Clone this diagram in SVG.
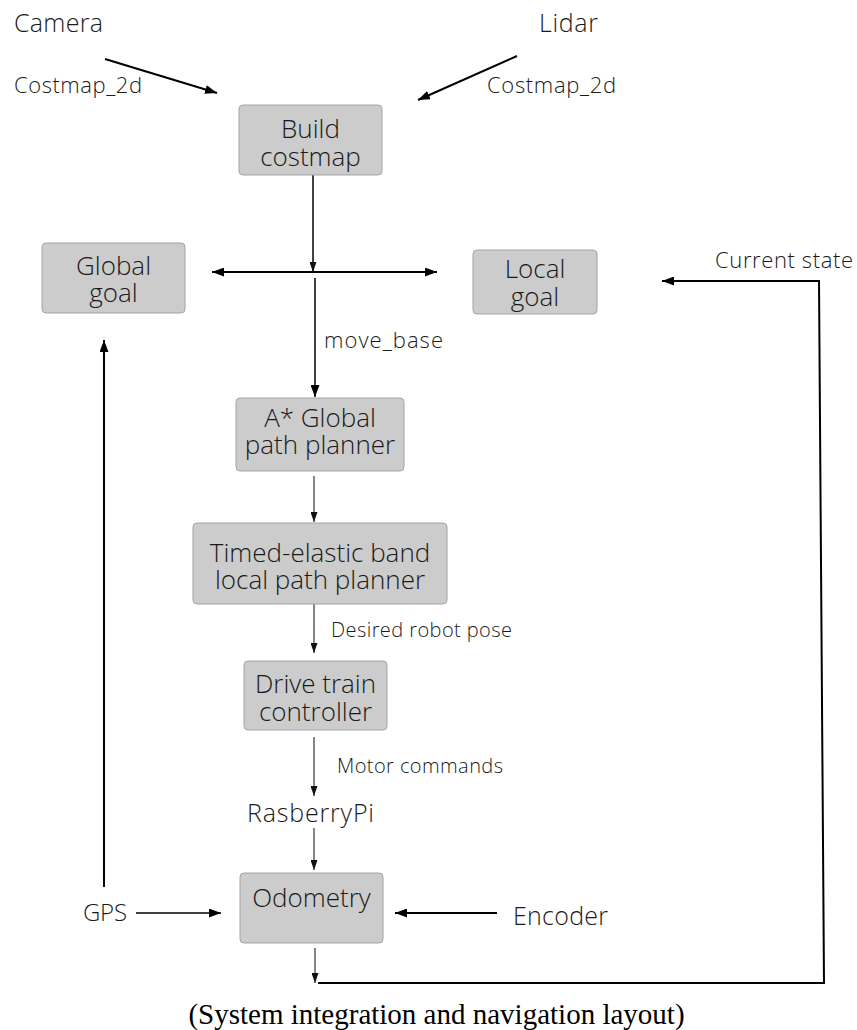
<svg xmlns="http://www.w3.org/2000/svg" width="857" height="1030" viewBox="0 0 857 1030">
<defs>
<style>
.box{fill:#cccccc;stroke:#a3a3a3;stroke-width:1}
.bt{font-family:"Open Sans","Noto Sans",sans-serif;font-weight:300;font-size:26px;fill:#1a1a1a;text-anchor:middle}
.lb{font-family:"Open Sans","Noto Sans",sans-serif;font-weight:300;fill:#1a1a1a}
.cap{font-family:"Liberation Serif","Times New Roman",serif;font-size:29px;fill:#000;text-anchor:middle}
.thick{stroke:#000;stroke-width:2;fill:none}
.mid{stroke:#000;stroke-width:1.5;fill:none}
.thin{stroke:#222;stroke-width:1.1;fill:none}
</style>
<marker id="ah" markerUnits="userSpaceOnUse" viewBox="0 0 12 9" refX="12" refY="4.5" markerWidth="12" markerHeight="9" orient="auto-start-reverse"><path d="M0,0 L12,4.5 L0,9 z" fill="#000"/></marker>
<marker id="as" markerUnits="userSpaceOnUse" viewBox="0 0 10 7" refX="10" refY="3.5" markerWidth="10" markerHeight="7" orient="auto"><path d="M0,0 L10,3.5 L0,7 z" fill="#111"/></marker>
</defs>
<rect width="857" height="1030" fill="#fff"/>

<g id="connectors">
<line class="thick" x1="105" y1="59" x2="217" y2="93" marker-end="url(#ah)"/>
<line class="thick" x1="517" y1="56" x2="418" y2="100" marker-end="url(#ah)"/>
<line class="mid" x1="313" y1="175" x2="313" y2="272" marker-end="url(#as)"/>
<line class="thick" x1="212" y1="272" x2="437" y2="272" marker-start="url(#ah)" marker-end="url(#ah)"/>
<line class="mid" x1="315" y1="278" x2="315" y2="397" marker-end="url(#ah)"/>
<line class="thin" x1="314" y1="476" x2="314" y2="522" marker-end="url(#as)"/>
<line class="thin" x1="314" y1="604" x2="314" y2="653" marker-end="url(#as)"/>
<line class="thin" x1="314" y1="737" x2="314" y2="796" marker-end="url(#as)"/>
<line class="thin" x1="314" y1="828" x2="314" y2="870" marker-end="url(#as)"/>
<line class="thin" x1="315" y1="948" x2="315" y2="983" marker-end="url(#as)"/>
<polyline class="thick" points="318,983 824,983 819,281 662,281" marker-end="url(#ah)"/>
<line class="thick" x1="104" y1="887" x2="104" y2="340" marker-end="url(#ah)"/>
<line class="mid" x1="136" y1="913" x2="221" y2="913" marker-end="url(#ah)"/>
<line class="thick" x1="497" y1="913" x2="395" y2="913" marker-end="url(#ah)"/>
</g>

<g id="camera"><text class="lb" x="14" y="32" font-size="25" textLength="89">Camera</text></g>
<g id="lidar"><text class="lb" x="539" y="32" font-size="25" textLength="59">Lidar</text></g>
<g id="label-costmap-left"><text class="lb" x="14" y="93" font-size="22" textLength="128">Costmap_2d</text></g>
<g id="label-costmap-right"><text class="lb" x="487" y="93" font-size="22" textLength="129">Costmap_2d</text></g>

<g id="build-costmap">
<rect class="box" x="239" y="105" width="143" height="70" rx="4"/>
<text class="bt"><tspan x="310.5" y="138">Build</tspan><tspan x="310.5" y="166">costmap</tspan></text>
</g>

<g id="global-goal">
<rect class="box" x="42" y="243" width="143" height="70" rx="4"/>
<text class="bt"><tspan x="113.5" y="275">Global</tspan><tspan x="113.5" y="302">goal</tspan></text>
</g>

<g id="local-goal">
<rect class="box" x="473" y="250" width="124" height="64" rx="4"/>
<text class="bt"><tspan x="535" y="278">Local</tspan><tspan x="535" y="306">goal</tspan></text>
</g>

<g id="label-current-state"><text class="lb" x="715" y="268" font-size="22" textLength="138">Current state</text></g>
<g id="label-move-base"><text class="lb" x="324" y="348" font-size="22" textLength="119">move_base</text></g>

<g id="astar">
<rect class="box" x="236" y="398" width="168" height="73" rx="4"/>
<text class="bt"><tspan x="320" y="427">A* Global</tspan><tspan x="320" y="454">path planner</tspan></text>
</g>

<g id="teb">
<rect class="box" x="193" y="523" width="254" height="81" rx="4"/>
<text class="bt"><tspan x="320" y="562">Timed-elastic band</tspan><tspan x="320" y="589">local path planner</tspan></text>
</g>

<g id="label-desired"><text class="lb" x="331" y="637" font-size="20" textLength="181">Desired robot pose</text></g>

<g id="drive-train">
<rect class="box" x="244" y="661" width="143" height="69" rx="4"/>
<text class="bt"><tspan x="315.5" y="693">Drive train</tspan><tspan x="315.5" y="721">controller</tspan></text>
</g>

<g id="label-motor"><text class="lb" x="337" y="773" font-size="20" textLength="166">Motor commands</text></g>
<g id="rasberrypi"><text class="lb" x="247" y="822" font-size="25" textLength="127">RasberryPi</text></g>

<g id="odometry">
<rect class="box" x="240" y="873" width="143" height="70" rx="4"/>
<text class="bt" x="311.5" y="907">Odometry</text>
</g>

<g id="gps"><text class="lb" x="83" y="921" font-size="24" textLength="44">GPS</text></g>
<g id="encoder"><text class="lb" x="513" y="925" font-size="25" textLength="95">Encoder</text></g>

<g id="caption"><text class="cap" x="436.5" y="1024">(System integration and navigation layout)</text></g>
</svg>
